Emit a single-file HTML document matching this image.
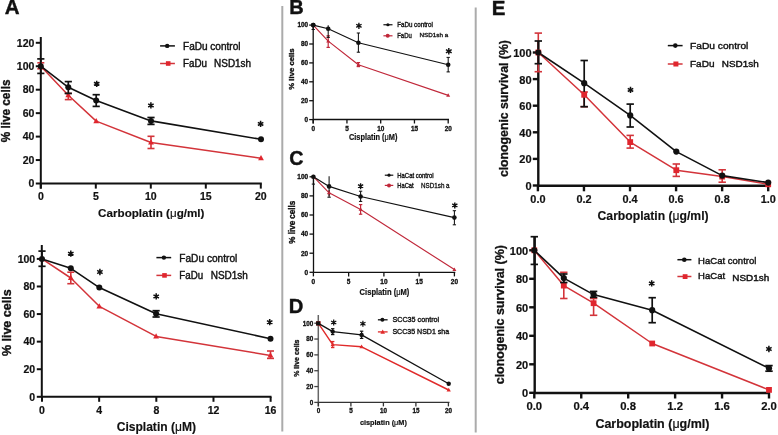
<!DOCTYPE html>
<html><head><meta charset="utf-8"><title>Figure</title>
<style>
html,body{margin:0;padding:0;background:#fff;}
body{width:778px;height:435px;overflow:hidden;}
svg{display:block;font-family:"Liberation Sans", sans-serif;}
svg{will-change:transform;}
</style></head><body>
<svg width="778" height="435" viewBox="0 0 778 435">
<rect width="778" height="435" fill="#fff"/>
<line x1="282.3" y1="6" x2="282.3" y2="431.4" stroke="#ababab" stroke-width="2.0" stroke-linecap="butt"/>
<line x1="475.7" y1="7.5" x2="475.7" y2="432.5" stroke="#ababab" stroke-width="2.0" stroke-linecap="butt"/>
<text x="4.8" y="14.0" font-size="20.5" font-weight="bold" fill="#111" stroke="#111" stroke-width="0.4">A</text>
<line x1="40.8" y1="37" x2="40.8" y2="188.6" stroke="#111" stroke-width="2.0" stroke-linecap="butt"/>
<line x1="40.8" y1="183.6" x2="261.8" y2="183.6" stroke="#111" stroke-width="2.0" stroke-linecap="butt"/>
<line x1="35.8" y1="183.5" x2="40.8" y2="183.5" stroke="#111" stroke-width="2.0" stroke-linecap="butt"/>
<line x1="35.8" y1="160.05" x2="40.8" y2="160.05" stroke="#111" stroke-width="2.0" stroke-linecap="butt"/>
<line x1="35.8" y1="136.6" x2="40.8" y2="136.6" stroke="#111" stroke-width="2.0" stroke-linecap="butt"/>
<line x1="35.8" y1="113.14999999999999" x2="40.8" y2="113.14999999999999" stroke="#111" stroke-width="2.0" stroke-linecap="butt"/>
<line x1="35.8" y1="89.69999999999999" x2="40.8" y2="89.69999999999999" stroke="#111" stroke-width="2.0" stroke-linecap="butt"/>
<line x1="35.8" y1="66.24999999999999" x2="40.8" y2="66.24999999999999" stroke="#111" stroke-width="2.0" stroke-linecap="butt"/>
<line x1="35.8" y1="42.79999999999998" x2="40.8" y2="42.79999999999998" stroke="#111" stroke-width="2.0" stroke-linecap="butt"/>
<line x1="40.8" y1="183.6" x2="40.8" y2="188.6" stroke="#111" stroke-width="2.0" stroke-linecap="butt"/>
<line x1="95.8" y1="183.6" x2="95.8" y2="188.6" stroke="#111" stroke-width="2.0" stroke-linecap="butt"/>
<line x1="150.8" y1="183.6" x2="150.8" y2="188.6" stroke="#111" stroke-width="2.0" stroke-linecap="butt"/>
<line x1="205.8" y1="183.6" x2="205.8" y2="188.6" stroke="#111" stroke-width="2.0" stroke-linecap="butt"/>
<line x1="260.8" y1="183.6" x2="260.8" y2="188.6" stroke="#111" stroke-width="2.0" stroke-linecap="butt"/>
<text x="34.4" y="187.2" font-size="10.5" font-weight="bold" text-anchor="end" fill="#111" stroke="#111" stroke-width="0.2">0</text>
<text x="34.4" y="163.75" font-size="10.5" font-weight="bold" text-anchor="end" fill="#111" stroke="#111" stroke-width="0.2">20</text>
<text x="34.4" y="140.29999999999998" font-size="10.5" font-weight="bold" text-anchor="end" fill="#111" stroke="#111" stroke-width="0.2">40</text>
<text x="34.4" y="116.85" font-size="10.5" font-weight="bold" text-anchor="end" fill="#111" stroke="#111" stroke-width="0.2">60</text>
<text x="34.4" y="93.39999999999999" font-size="10.5" font-weight="bold" text-anchor="end" fill="#111" stroke="#111" stroke-width="0.2">80</text>
<text x="34.4" y="69.94999999999999" font-size="10.5" font-weight="bold" text-anchor="end" fill="#111" stroke="#111" stroke-width="0.2">100</text>
<text x="34.4" y="46.499999999999986" font-size="10.5" font-weight="bold" text-anchor="end" fill="#111" stroke="#111" stroke-width="0.2">120</text>
<text x="40.8" y="199.6" font-size="10.5" font-weight="bold" text-anchor="middle" fill="#111" stroke="#111" stroke-width="0.2">0</text>
<text x="95.8" y="199.6" font-size="10.5" font-weight="bold" text-anchor="middle" fill="#111" stroke="#111" stroke-width="0.2">5</text>
<text x="150.8" y="199.6" font-size="10.5" font-weight="bold" text-anchor="middle" fill="#111" stroke="#111" stroke-width="0.2">10</text>
<text x="205.8" y="199.6" font-size="10.5" font-weight="bold" text-anchor="middle" fill="#111" stroke="#111" stroke-width="0.2">15</text>
<text x="260.8" y="199.6" font-size="10.5" font-weight="bold" text-anchor="middle" fill="#111" stroke="#111" stroke-width="0.2">20</text>
<text x="98.1" y="216.7" font-size="11.5" font-weight="bold" textLength="106.4" lengthAdjust="spacingAndGlyphs" fill="#111" stroke="#111" stroke-width="0.15">Carboplatin (<tspan font-weight="normal">μ</tspan>g/ml)</text>
<text x="10.3" y="142.3" font-size="12.0" font-weight="bold" textLength="62.8" lengthAdjust="spacingAndGlyphs" transform="rotate(-90 10.3 142.3)" fill="#111" stroke="#111" stroke-width="0.35">% live cells</text>
<polyline points="40.8,66.2 68.3,95.2 96.2,121.1 151,142.5 261,158.2" fill="none" stroke="#d3343a" stroke-width="1.5" stroke-linejoin="round"/>
<line x1="40.8" y1="62.8" x2="40.8" y2="68.8" stroke="#d3343a" stroke-width="1.6" stroke-linecap="butt"/>
<line x1="37.3" y1="62.8" x2="44.3" y2="62.8" stroke="#d3343a" stroke-width="1.6" stroke-linecap="butt"/>
<line x1="37.3" y1="68.8" x2="44.3" y2="68.8" stroke="#d3343a" stroke-width="1.6" stroke-linecap="butt"/>
<line x1="68.3" y1="93.4" x2="68.3" y2="99.6" stroke="#d3343a" stroke-width="1.6" stroke-linecap="butt"/>
<line x1="64.8" y1="93.4" x2="71.8" y2="93.4" stroke="#d3343a" stroke-width="1.6" stroke-linecap="butt"/>
<line x1="64.8" y1="99.6" x2="71.8" y2="99.6" stroke="#d3343a" stroke-width="1.6" stroke-linecap="butt"/>
<line x1="151" y1="136.3" x2="151" y2="148.5" stroke="#d3343a" stroke-width="1.6" stroke-linecap="butt"/>
<line x1="147.5" y1="136.3" x2="154.5" y2="136.3" stroke="#d3343a" stroke-width="1.6" stroke-linecap="butt"/>
<line x1="147.5" y1="148.5" x2="154.5" y2="148.5" stroke="#d3343a" stroke-width="1.6" stroke-linecap="butt"/>
<polygon points="40.8,63.068000000000005 43.699999999999996,68.288 37.9,68.288" fill="#e0262e"/>
<polygon points="68.3,92.068 71.2,97.288 65.39999999999999,97.288" fill="#e0262e"/>
<polygon points="96.2,117.96799999999999 99.10000000000001,123.18799999999999 93.3,123.18799999999999" fill="#e0262e"/>
<polygon points="151,139.368 153.9,144.588 148.1,144.588" fill="#e0262e"/>
<polygon points="261,155.06799999999998 263.9,160.28799999999998 258.1,160.28799999999998" fill="#e0262e"/>
<polyline points="40.8,66.2 68.3,87.3 96.2,100.5 151,120.9 261,139.3" fill="none" stroke="#111" stroke-width="1.6" stroke-linejoin="round"/>
<line x1="40.8" y1="58.9" x2="40.8" y2="73.4" stroke="#111" stroke-width="1.7" stroke-linecap="butt"/>
<line x1="37.199999999999996" y1="58.9" x2="44.4" y2="58.9" stroke="#111" stroke-width="1.7" stroke-linecap="butt"/>
<line x1="37.199999999999996" y1="73.4" x2="44.4" y2="73.4" stroke="#111" stroke-width="1.7" stroke-linecap="butt"/>
<line x1="68.3" y1="81.6" x2="68.3" y2="93.4" stroke="#111" stroke-width="1.7" stroke-linecap="butt"/>
<line x1="64.7" y1="81.6" x2="71.89999999999999" y2="81.6" stroke="#111" stroke-width="1.7" stroke-linecap="butt"/>
<line x1="64.7" y1="93.4" x2="71.89999999999999" y2="93.4" stroke="#111" stroke-width="1.7" stroke-linecap="butt"/>
<line x1="96.2" y1="94.7" x2="96.2" y2="106.4" stroke="#111" stroke-width="1.7" stroke-linecap="butt"/>
<line x1="92.60000000000001" y1="94.7" x2="99.8" y2="94.7" stroke="#111" stroke-width="1.7" stroke-linecap="butt"/>
<line x1="92.60000000000001" y1="106.4" x2="99.8" y2="106.4" stroke="#111" stroke-width="1.7" stroke-linecap="butt"/>
<line x1="151" y1="117.5" x2="151" y2="124.4" stroke="#111" stroke-width="1.7" stroke-linecap="butt"/>
<line x1="147.4" y1="117.5" x2="154.6" y2="117.5" stroke="#111" stroke-width="1.7" stroke-linecap="butt"/>
<line x1="147.4" y1="124.4" x2="154.6" y2="124.4" stroke="#111" stroke-width="1.7" stroke-linecap="butt"/>
<circle cx="40.8" cy="66.2" r="3.0" fill="#111"/>
<circle cx="68.3" cy="87.3" r="3.0" fill="#111"/>
<circle cx="96.2" cy="100.5" r="3.0" fill="#111"/>
<circle cx="151" cy="120.9" r="3.0" fill="#111"/>
<circle cx="261" cy="139.3" r="3.0" fill="#111"/>
<path d="M96.7 80.64999999999999V86.95M93.97 82.22L99.43 85.38M93.97 85.38L99.43 82.22" stroke="#111" stroke-width="1.53" fill="none"/>
<circle cx="96.7" cy="83.8" r="1.20" fill="#111"/>
<path d="M150.9 102.25V108.55000000000001M148.17 103.83L153.63 106.98M148.17 106.98L153.63 103.83" stroke="#111" stroke-width="1.53" fill="none"/>
<circle cx="150.9" cy="105.4" r="1.20" fill="#111"/>
<path d="M260.6 120.75V127.05000000000001M257.87 122.33L263.33 125.48M257.87 125.48L263.33 122.33" stroke="#111" stroke-width="1.53" fill="none"/>
<circle cx="260.6" cy="123.9" r="1.20" fill="#111"/>
<line x1="160.1" y1="45.9" x2="174.9" y2="45.9" stroke="#111" stroke-width="1.5" stroke-linecap="butt"/>
<circle cx="167.2" cy="45.9" r="2.2" fill="#111"/>
<text x="183" y="49.5" font-size="10" textLength="57.5" lengthAdjust="spacingAndGlyphs" fill="#111" stroke="#111" stroke-width="0.4">FaDu control</text>
<line x1="160.1" y1="63.5" x2="174.9" y2="63.5" stroke="#d3343a" stroke-width="1.5" stroke-linecap="butt"/>
<rect x="165.89999999999998" y="61.2" width="4.6" height="4.6" fill="#e0262e"/>
<text x="183" y="67.1" font-size="10" textLength="24" lengthAdjust="spacingAndGlyphs" fill="#111" stroke="#111" stroke-width="0.4">FaDu</text>
<text x="214.1" y="67.1" font-size="10" textLength="37" lengthAdjust="spacingAndGlyphs" fill="#111" stroke="#111" stroke-width="0.4">NSD1sh</text>
<line x1="41.8" y1="245" x2="41.8" y2="396.8" stroke="#111" stroke-width="2.0" stroke-linecap="butt"/>
<line x1="41.8" y1="396.8" x2="271.5" y2="396.8" stroke="#111" stroke-width="2.0" stroke-linecap="butt"/>
<line x1="36.8" y1="396.8" x2="41.8" y2="396.8" stroke="#111" stroke-width="2.0" stroke-linecap="butt"/>
<line x1="36.8" y1="369.22" x2="41.8" y2="369.22" stroke="#111" stroke-width="2.0" stroke-linecap="butt"/>
<line x1="36.8" y1="341.64" x2="41.8" y2="341.64" stroke="#111" stroke-width="2.0" stroke-linecap="butt"/>
<line x1="36.8" y1="314.06" x2="41.8" y2="314.06" stroke="#111" stroke-width="2.0" stroke-linecap="butt"/>
<line x1="36.8" y1="286.48" x2="41.8" y2="286.48" stroke="#111" stroke-width="2.0" stroke-linecap="butt"/>
<line x1="36.8" y1="258.9" x2="41.8" y2="258.9" stroke="#111" stroke-width="2.0" stroke-linecap="butt"/>
<line x1="42.0" y1="396.8" x2="42.0" y2="401.8" stroke="#111" stroke-width="2.0" stroke-linecap="butt"/>
<line x1="99.16" y1="396.8" x2="99.16" y2="401.8" stroke="#111" stroke-width="2.0" stroke-linecap="butt"/>
<line x1="156.32" y1="396.8" x2="156.32" y2="401.8" stroke="#111" stroke-width="2.0" stroke-linecap="butt"/>
<line x1="213.48" y1="396.8" x2="213.48" y2="401.8" stroke="#111" stroke-width="2.0" stroke-linecap="butt"/>
<line x1="270.64" y1="396.8" x2="270.64" y2="401.8" stroke="#111" stroke-width="2.0" stroke-linecap="butt"/>
<text x="35.2" y="400.5" font-size="10.5" font-weight="bold" text-anchor="end" fill="#111" stroke="#111" stroke-width="0.2">0</text>
<text x="35.2" y="372.92" font-size="10.5" font-weight="bold" text-anchor="end" fill="#111" stroke="#111" stroke-width="0.2">20</text>
<text x="35.2" y="345.34" font-size="10.5" font-weight="bold" text-anchor="end" fill="#111" stroke="#111" stroke-width="0.2">40</text>
<text x="35.2" y="317.76" font-size="10.5" font-weight="bold" text-anchor="end" fill="#111" stroke="#111" stroke-width="0.2">60</text>
<text x="35.2" y="290.18" font-size="10.5" font-weight="bold" text-anchor="end" fill="#111" stroke="#111" stroke-width="0.2">80</text>
<text x="35.2" y="262.59999999999997" font-size="10.5" font-weight="bold" text-anchor="end" fill="#111" stroke="#111" stroke-width="0.2">100</text>
<text x="42.0" y="413.6" font-size="10.5" font-weight="bold" text-anchor="middle" fill="#111" stroke="#111" stroke-width="0.2">0</text>
<text x="99.16" y="413.6" font-size="10.5" font-weight="bold" text-anchor="middle" fill="#111" stroke="#111" stroke-width="0.2">4</text>
<text x="156.32" y="413.6" font-size="10.5" font-weight="bold" text-anchor="middle" fill="#111" stroke="#111" stroke-width="0.2">8</text>
<text x="213.48" y="413.6" font-size="10.5" font-weight="bold" text-anchor="middle" fill="#111" stroke="#111" stroke-width="0.2">12</text>
<text x="270.64" y="413.6" font-size="10.5" font-weight="bold" text-anchor="middle" fill="#111" stroke="#111" stroke-width="0.2">16</text>
<text x="116.7" y="431.2" font-size="12" font-weight="bold" textLength="79.3" lengthAdjust="spacingAndGlyphs" fill="#111" stroke="#111" stroke-width="0.15">Cisplatin (<tspan font-weight="normal">μ</tspan>M)</text>
<text x="11.4" y="356.1" font-size="12.5" font-weight="bold" textLength="66.7" lengthAdjust="spacingAndGlyphs" transform="rotate(-90 11.4 356.1)" fill="#111" stroke="#111" stroke-width="0.35">% live cells</text>
<polyline points="42,258.9 70.8,278.0 99.3,306.3 156.1,336.4 270.5,355.4" fill="none" stroke="#d3343a" stroke-width="1.5" stroke-linejoin="round"/>
<line x1="70.8" y1="272.2" x2="70.8" y2="283.7" stroke="#d3343a" stroke-width="1.6" stroke-linecap="butt"/>
<line x1="67.3" y1="272.2" x2="74.3" y2="272.2" stroke="#d3343a" stroke-width="1.6" stroke-linecap="butt"/>
<line x1="67.3" y1="283.7" x2="74.3" y2="283.7" stroke="#d3343a" stroke-width="1.6" stroke-linecap="butt"/>
<line x1="270.5" y1="351" x2="270.5" y2="358.4" stroke="#d3343a" stroke-width="1.6" stroke-linecap="butt"/>
<line x1="267.0" y1="351" x2="274.0" y2="351" stroke="#d3343a" stroke-width="1.6" stroke-linecap="butt"/>
<line x1="267.0" y1="358.4" x2="274.0" y2="358.4" stroke="#d3343a" stroke-width="1.6" stroke-linecap="butt"/>
<polygon points="42,255.76799999999997 44.9,260.988 39.1,260.988" fill="#e0262e"/>
<polygon points="70.8,274.868 73.7,280.088 67.89999999999999,280.088" fill="#e0262e"/>
<polygon points="99.3,303.168 102.2,308.38800000000003 96.39999999999999,308.38800000000003" fill="#e0262e"/>
<polygon points="156.1,333.268 159.0,338.488 153.2,338.488" fill="#e0262e"/>
<polygon points="270.5,352.268 273.4,357.488 267.6,357.488" fill="#e0262e"/>
<polyline points="42,258.9 70.8,268.3 99.3,287.6 156.1,313.8 270.5,338.7" fill="none" stroke="#111" stroke-width="1.6" stroke-linejoin="round"/>
<line x1="42" y1="251.1" x2="42" y2="266.3" stroke="#111" stroke-width="1.7" stroke-linecap="butt"/>
<line x1="38.4" y1="251.1" x2="45.6" y2="251.1" stroke="#111" stroke-width="1.7" stroke-linecap="butt"/>
<line x1="38.4" y1="266.3" x2="45.6" y2="266.3" stroke="#111" stroke-width="1.7" stroke-linecap="butt"/>
<line x1="156.1" y1="310.7" x2="156.1" y2="317" stroke="#111" stroke-width="1.7" stroke-linecap="butt"/>
<line x1="152.5" y1="310.7" x2="159.7" y2="310.7" stroke="#111" stroke-width="1.7" stroke-linecap="butt"/>
<line x1="152.5" y1="317" x2="159.7" y2="317" stroke="#111" stroke-width="1.7" stroke-linecap="butt"/>
<circle cx="42" cy="258.9" r="3.0" fill="#111"/>
<circle cx="70.8" cy="268.3" r="3.0" fill="#111"/>
<circle cx="99.3" cy="287.6" r="3.0" fill="#111"/>
<circle cx="156.1" cy="313.8" r="3.0" fill="#111"/>
<circle cx="270.5" cy="338.7" r="3.0" fill="#111"/>
<path d="M70.8 250.54999999999998V256.84999999999997M68.07 252.12L73.53 255.27M68.07 255.27L73.53 252.12" stroke="#111" stroke-width="1.53" fill="none"/>
<circle cx="70.8" cy="253.7" r="1.20" fill="#111"/>
<path d="M99.9 268.85V275.15M97.17 270.43L102.63 273.57M97.17 273.57L102.63 270.43" stroke="#111" stroke-width="1.53" fill="none"/>
<circle cx="99.9" cy="272.0" r="1.20" fill="#111"/>
<path d="M156.2 293.25V299.54999999999995M153.47 294.82L158.93 297.97M153.47 297.97L158.93 294.82" stroke="#111" stroke-width="1.53" fill="none"/>
<circle cx="156.2" cy="296.4" r="1.20" fill="#111"/>
<path d="M269.7 319.05V325.34999999999997M266.97 320.62L272.43 323.77M266.97 323.77L272.43 320.62" stroke="#111" stroke-width="1.53" fill="none"/>
<circle cx="269.7" cy="322.2" r="1.20" fill="#111"/>
<line x1="156.4" y1="257.6" x2="171.2" y2="257.6" stroke="#111" stroke-width="1.5" stroke-linecap="butt"/>
<circle cx="163.9" cy="257.6" r="2.2" fill="#111"/>
<text x="179.3" y="261.5" font-size="10" textLength="58" lengthAdjust="spacingAndGlyphs" fill="#111" stroke="#111" stroke-width="0.4">FaDu control</text>
<line x1="156.4" y1="275.4" x2="171.2" y2="275.4" stroke="#d3343a" stroke-width="1.5" stroke-linecap="butt"/>
<rect x="162.2" y="273.09999999999997" width="4.6" height="4.6" fill="#e0262e"/>
<text x="179.3" y="279.2" font-size="10" textLength="23.8" lengthAdjust="spacingAndGlyphs" fill="#111" stroke="#111" stroke-width="0.4">FaDu</text>
<text x="210.7" y="279.2" font-size="10" textLength="37.2" lengthAdjust="spacingAndGlyphs" fill="#111" stroke="#111" stroke-width="0.4">NSD1sh</text>
<text x="289.2" y="13.8" font-size="20" font-weight="bold" fill="#111" stroke="#111" stroke-width="0.4">B</text>
<line x1="313.2" y1="25" x2="313.2" y2="123.5" stroke="#111" stroke-width="1.3" stroke-linecap="butt"/>
<line x1="313.2" y1="119.5" x2="449" y2="119.5" stroke="#111" stroke-width="1.3" stroke-linecap="butt"/>
<line x1="309.2" y1="119.6" x2="313.2" y2="119.6" stroke="#111" stroke-width="1.3" stroke-linecap="butt"/>
<line x1="309.2" y1="100.69999999999999" x2="313.2" y2="100.69999999999999" stroke="#111" stroke-width="1.3" stroke-linecap="butt"/>
<line x1="309.2" y1="81.8" x2="313.2" y2="81.8" stroke="#111" stroke-width="1.3" stroke-linecap="butt"/>
<line x1="309.2" y1="62.9" x2="313.2" y2="62.9" stroke="#111" stroke-width="1.3" stroke-linecap="butt"/>
<line x1="309.2" y1="44.0" x2="313.2" y2="44.0" stroke="#111" stroke-width="1.3" stroke-linecap="butt"/>
<line x1="309.2" y1="25.099999999999994" x2="313.2" y2="25.099999999999994" stroke="#111" stroke-width="1.3" stroke-linecap="butt"/>
<line x1="313.2" y1="119.5" x2="313.2" y2="123.5" stroke="#111" stroke-width="1.3" stroke-linecap="butt"/>
<line x1="346.95" y1="119.5" x2="346.95" y2="123.5" stroke="#111" stroke-width="1.3" stroke-linecap="butt"/>
<line x1="380.7" y1="119.5" x2="380.7" y2="123.5" stroke="#111" stroke-width="1.3" stroke-linecap="butt"/>
<line x1="414.45" y1="119.5" x2="414.45" y2="123.5" stroke="#111" stroke-width="1.3" stroke-linecap="butt"/>
<line x1="448.2" y1="119.5" x2="448.2" y2="123.5" stroke="#111" stroke-width="1.3" stroke-linecap="butt"/>
<text x="308.1" y="121.89999999999999" font-size="6.4" font-weight="bold" text-anchor="end" fill="#111" stroke="#111" stroke-width="0.3">0</text>
<text x="308.1" y="102.99999999999999" font-size="6.4" font-weight="bold" text-anchor="end" fill="#111" stroke="#111" stroke-width="0.3">20</text>
<text x="308.1" y="84.1" font-size="6.4" font-weight="bold" text-anchor="end" fill="#111" stroke="#111" stroke-width="0.3">40</text>
<text x="308.1" y="65.2" font-size="6.4" font-weight="bold" text-anchor="end" fill="#111" stroke="#111" stroke-width="0.3">60</text>
<text x="308.1" y="46.3" font-size="6.4" font-weight="bold" text-anchor="end" fill="#111" stroke="#111" stroke-width="0.3">80</text>
<text x="308.1" y="27.399999999999995" font-size="6.4" font-weight="bold" text-anchor="end" fill="#111" stroke="#111" stroke-width="0.3">100</text>
<text x="313.2" y="131.2" font-size="6.4" font-weight="bold" text-anchor="middle" fill="#111" stroke="#111" stroke-width="0.3">0</text>
<text x="346.95" y="131.2" font-size="6.4" font-weight="bold" text-anchor="middle" fill="#111" stroke="#111" stroke-width="0.3">5</text>
<text x="380.7" y="131.2" font-size="6.4" font-weight="bold" text-anchor="middle" fill="#111" stroke="#111" stroke-width="0.3">10</text>
<text x="414.45" y="131.2" font-size="6.4" font-weight="bold" text-anchor="middle" fill="#111" stroke="#111" stroke-width="0.3">15</text>
<text x="448.2" y="131.2" font-size="6.4" font-weight="bold" text-anchor="middle" fill="#111" stroke="#111" stroke-width="0.3">20</text>
<text x="349.0" y="140.4" font-size="8.4" font-weight="bold" textLength="48.4" lengthAdjust="spacingAndGlyphs" fill="#111" stroke="#111" stroke-width="0.2">Cisplatin (<tspan font-weight="normal">μ</tspan>M)</text>
<text x="294.0" y="89.7" font-size="7.8" font-weight="bold" textLength="41.4" lengthAdjust="spacingAndGlyphs" transform="rotate(-90 294.0 89.7)" fill="#111" stroke="#111" stroke-width="0.35">% live cells</text>
<polyline points="313.2,25.1 328.2,41.1 358.4,64.8 448.2,95.4" fill="none" stroke="#c0283a" stroke-width="1.15" stroke-linejoin="round"/>
<line x1="328.2" y1="35.8" x2="328.2" y2="47.4" stroke="#c0283a" stroke-width="1.2" stroke-linecap="butt"/>
<line x1="326.5" y1="35.8" x2="329.9" y2="35.8" stroke="#c0283a" stroke-width="1.2" stroke-linecap="butt"/>
<line x1="326.5" y1="47.4" x2="329.9" y2="47.4" stroke="#c0283a" stroke-width="1.2" stroke-linecap="butt"/>
<line x1="358.4" y1="62.6" x2="358.4" y2="66.6" stroke="#c0283a" stroke-width="1.2" stroke-linecap="butt"/>
<line x1="356.7" y1="62.6" x2="360.09999999999997" y2="62.6" stroke="#c0283a" stroke-width="1.2" stroke-linecap="butt"/>
<line x1="356.7" y1="66.6" x2="360.09999999999997" y2="66.6" stroke="#c0283a" stroke-width="1.2" stroke-linecap="butt"/>
<polygon points="313.2,22.94 315.2,26.540000000000003 311.2,26.540000000000003" fill="#c0283a"/>
<polygon points="328.2,38.94 330.2,42.54 326.2,42.54" fill="#c0283a"/>
<polygon points="358.4,62.64 360.4,66.24 356.4,66.24" fill="#c0283a"/>
<polygon points="448.2,93.24000000000001 450.2,96.84 446.2,96.84" fill="#c0283a"/>
<polyline points="313.2,25.1 328.2,28.7 358.4,42.7 448.2,64.7" fill="none" stroke="#111" stroke-width="1.15" stroke-linejoin="round"/>
<line x1="313.2" y1="25.1" x2="313.2" y2="29.5" stroke="#111" stroke-width="1.05" stroke-linecap="butt"/>
<line x1="311.55" y1="29.5" x2="314.84999999999997" y2="29.5" stroke="#111" stroke-width="1.05" stroke-linecap="butt"/>
<line x1="328.2" y1="25.3" x2="328.2" y2="37.4" stroke="#111" stroke-width="1.05" stroke-linecap="butt"/>
<line x1="326.55" y1="37.4" x2="329.84999999999997" y2="37.4" stroke="#111" stroke-width="1.05" stroke-linecap="butt"/>
<line x1="358.4" y1="33" x2="358.4" y2="52.2" stroke="#111" stroke-width="1.05" stroke-linecap="butt"/>
<line x1="356.75" y1="33" x2="360.04999999999995" y2="33" stroke="#111" stroke-width="1.05" stroke-linecap="butt"/>
<line x1="356.75" y1="52.2" x2="360.04999999999995" y2="52.2" stroke="#111" stroke-width="1.05" stroke-linecap="butt"/>
<line x1="448.2" y1="57.4" x2="448.2" y2="71.9" stroke="#111" stroke-width="1.05" stroke-linecap="butt"/>
<line x1="446.55" y1="57.4" x2="449.84999999999997" y2="57.4" stroke="#111" stroke-width="1.05" stroke-linecap="butt"/>
<line x1="446.55" y1="71.9" x2="449.84999999999997" y2="71.9" stroke="#111" stroke-width="1.05" stroke-linecap="butt"/>
<circle cx="313.2" cy="25.1" r="2.3" fill="#111"/>
<circle cx="328.2" cy="28.7" r="2.3" fill="#111"/>
<circle cx="358.4" cy="42.7" r="2.3" fill="#111"/>
<circle cx="448.2" cy="64.7" r="2.3" fill="#111"/>
<circle cx="313.3" cy="25.1" r="2.3" fill="#111"/>
<path d="M358.9 22.7V28.900000000000002M356.22 24.25L361.58 27.35M356.22 27.35L361.58 24.25" stroke="#111" stroke-width="1.36" fill="none"/>
<circle cx="358.9" cy="25.8" r="1.18" fill="#111"/>
<path d="M448.8 47.900000000000006V54.5M445.94 49.55L451.66 52.85M445.94 52.85L451.66 49.55" stroke="#111" stroke-width="1.44" fill="none"/>
<circle cx="448.8" cy="51.2" r="1.25" fill="#111"/>
<line x1="383.4" y1="24.75" x2="392.5" y2="24.75" stroke="#111" stroke-width="1.2" stroke-linecap="butt"/>
<circle cx="387.9" cy="24.75" r="1.6" fill="#111"/>
<text x="397.2" y="27.2" font-size="6.8" textLength="35.6" lengthAdjust="spacingAndGlyphs" fill="#111" stroke="#111" stroke-width="0.35">FaDu control</text>
<line x1="383.4" y1="35.8" x2="392.5" y2="35.8" stroke="#c0283a" stroke-width="1.2" stroke-linecap="butt"/>
<circle cx="387.7" cy="35.8" r="2.0" fill="#c0283a"/>
<text x="397.2" y="38.4" font-size="6.9" textLength="14.6" lengthAdjust="spacingAndGlyphs" fill="#111" stroke="#111" stroke-width="0.35">FaDu</text>
<text x="419.5" y="37.1" font-size="5.8" textLength="28.8" lengthAdjust="spacingAndGlyphs" fill="#111" stroke="#111" stroke-width="0.3">NSD1sh a</text>
<text x="289.2" y="164.9" font-size="19.7" font-weight="bold" fill="#111" stroke="#111" stroke-width="0.4">C</text>
<line x1="313.5" y1="175" x2="313.5" y2="272.4" stroke="#111" stroke-width="1.3" stroke-linecap="butt"/>
<line x1="313.5" y1="272.4" x2="455.3" y2="272.4" stroke="#111" stroke-width="1.3" stroke-linecap="butt"/>
<line x1="309.5" y1="272.3" x2="313.5" y2="272.3" stroke="#111" stroke-width="1.3" stroke-linecap="butt"/>
<line x1="309.5" y1="253.20000000000002" x2="313.5" y2="253.20000000000002" stroke="#111" stroke-width="1.3" stroke-linecap="butt"/>
<line x1="309.5" y1="234.10000000000002" x2="313.5" y2="234.10000000000002" stroke="#111" stroke-width="1.3" stroke-linecap="butt"/>
<line x1="309.5" y1="215.0" x2="313.5" y2="215.0" stroke="#111" stroke-width="1.3" stroke-linecap="butt"/>
<line x1="309.5" y1="195.90000000000003" x2="313.5" y2="195.90000000000003" stroke="#111" stroke-width="1.3" stroke-linecap="butt"/>
<line x1="309.5" y1="176.8" x2="313.5" y2="176.8" stroke="#111" stroke-width="1.3" stroke-linecap="butt"/>
<line x1="313.4" y1="272.4" x2="313.4" y2="276.4" stroke="#111" stroke-width="1.3" stroke-linecap="butt"/>
<line x1="348.65" y1="272.4" x2="348.65" y2="276.4" stroke="#111" stroke-width="1.3" stroke-linecap="butt"/>
<line x1="383.9" y1="272.4" x2="383.9" y2="276.4" stroke="#111" stroke-width="1.3" stroke-linecap="butt"/>
<line x1="419.15" y1="272.4" x2="419.15" y2="276.4" stroke="#111" stroke-width="1.3" stroke-linecap="butt"/>
<line x1="454.4" y1="272.4" x2="454.4" y2="276.4" stroke="#111" stroke-width="1.3" stroke-linecap="butt"/>
<text x="308.2" y="274.6" font-size="6.5" font-weight="bold" text-anchor="end" fill="#111" stroke="#111" stroke-width="0.3">0</text>
<text x="308.2" y="255.50000000000003" font-size="6.5" font-weight="bold" text-anchor="end" fill="#111" stroke="#111" stroke-width="0.3">20</text>
<text x="308.2" y="236.40000000000003" font-size="6.5" font-weight="bold" text-anchor="end" fill="#111" stroke="#111" stroke-width="0.3">40</text>
<text x="308.2" y="217.3" font-size="6.5" font-weight="bold" text-anchor="end" fill="#111" stroke="#111" stroke-width="0.3">60</text>
<text x="308.2" y="198.20000000000005" font-size="6.5" font-weight="bold" text-anchor="end" fill="#111" stroke="#111" stroke-width="0.3">80</text>
<text x="308.2" y="179.10000000000002" font-size="6.5" font-weight="bold" text-anchor="end" fill="#111" stroke="#111" stroke-width="0.3">100</text>
<text x="313.4" y="284.2" font-size="6.5" font-weight="bold" text-anchor="middle" fill="#111" stroke="#111" stroke-width="0.3">0</text>
<text x="348.65" y="284.2" font-size="6.5" font-weight="bold" text-anchor="middle" fill="#111" stroke="#111" stroke-width="0.3">5</text>
<text x="383.9" y="284.2" font-size="6.5" font-weight="bold" text-anchor="middle" fill="#111" stroke="#111" stroke-width="0.3">10</text>
<text x="419.15" y="284.2" font-size="6.5" font-weight="bold" text-anchor="middle" fill="#111" stroke="#111" stroke-width="0.3">15</text>
<text x="454.4" y="284.2" font-size="6.5" font-weight="bold" text-anchor="middle" fill="#111" stroke="#111" stroke-width="0.3">20</text>
<text x="359.6" y="294.6" font-size="8.4" font-weight="bold" textLength="49.8" lengthAdjust="spacingAndGlyphs" fill="#111" stroke="#111" stroke-width="0.2">Cisplatin (<tspan font-weight="normal">μ</tspan>M)</text>
<text x="295.3" y="243.7" font-size="8.4" font-weight="bold" textLength="43" lengthAdjust="spacingAndGlyphs" transform="rotate(-90 295.3 243.7)" fill="#111" stroke="#111" stroke-width="0.35">% live cells</text>
<polyline points="313.4,176.7 329.1,192.8 360.6,209.4 454.4,269.6" fill="none" stroke="#c0283a" stroke-width="1.15" stroke-linejoin="round"/>
<line x1="360.6" y1="204.6" x2="360.6" y2="214.2" stroke="#c0283a" stroke-width="1.2" stroke-linecap="butt"/>
<line x1="358.90000000000003" y1="204.6" x2="362.3" y2="204.6" stroke="#c0283a" stroke-width="1.2" stroke-linecap="butt"/>
<line x1="358.90000000000003" y1="214.2" x2="362.3" y2="214.2" stroke="#c0283a" stroke-width="1.2" stroke-linecap="butt"/>
<line x1="329.1" y1="190" x2="329.1" y2="196" stroke="#c0283a" stroke-width="1.1" stroke-linecap="butt"/>
<polygon points="313.4,174.54 315.4,178.14 311.4,178.14" fill="#c0283a"/>
<polygon points="329.1,190.64000000000001 331.1,194.24 327.1,194.24" fill="#c0283a"/>
<polygon points="360.6,207.24 362.6,210.84 358.6,210.84" fill="#c0283a"/>
<polygon points="454.4,267.44 456.4,271.04 452.4,271.04" fill="#c0283a"/>
<polyline points="313.4,176.7 329.1,186.4 360.6,196.5 454.4,217.6" fill="none" stroke="#111" stroke-width="1.15" stroke-linejoin="round"/>
<line x1="313.4" y1="176.7" x2="313.4" y2="184.1" stroke="#111" stroke-width="1.05" stroke-linecap="butt"/>
<line x1="311.75" y1="176.7" x2="315.04999999999995" y2="176.7" stroke="#111" stroke-width="1.05" stroke-linecap="butt"/>
<line x1="311.75" y1="184.1" x2="315.04999999999995" y2="184.1" stroke="#111" stroke-width="1.05" stroke-linecap="butt"/>
<line x1="329.1" y1="176.3" x2="329.1" y2="197.2" stroke="#111" stroke-width="1.05" stroke-linecap="butt"/>
<line x1="327.40000000000003" y1="197.2" x2="330.8" y2="197.2" stroke="#111" stroke-width="1.05" stroke-linecap="butt"/>
<polygon points="329.1,190.85600000000002 330.90000000000003,194.096 327.3,194.096" fill="#c0283a"/>
<line x1="360.6" y1="191.2" x2="360.6" y2="201.4" stroke="#111" stroke-width="1.05" stroke-linecap="butt"/>
<line x1="358.95000000000005" y1="191.2" x2="362.25" y2="191.2" stroke="#111" stroke-width="1.05" stroke-linecap="butt"/>
<line x1="358.95000000000005" y1="201.4" x2="362.25" y2="201.4" stroke="#111" stroke-width="1.05" stroke-linecap="butt"/>
<line x1="454.4" y1="210.7" x2="454.4" y2="224.8" stroke="#111" stroke-width="1.05" stroke-linecap="butt"/>
<line x1="452.75" y1="210.7" x2="456.04999999999995" y2="210.7" stroke="#111" stroke-width="1.05" stroke-linecap="butt"/>
<line x1="452.75" y1="224.8" x2="456.04999999999995" y2="224.8" stroke="#111" stroke-width="1.05" stroke-linecap="butt"/>
<circle cx="313.4" cy="176.7" r="2.3" fill="#111"/>
<circle cx="329.1" cy="186.4" r="2.3" fill="#111"/>
<circle cx="360.6" cy="196.5" r="2.3" fill="#111"/>
<circle cx="454.4" cy="217.6" r="2.3" fill="#111"/>
<path d="M360.6 183.2V189.2M358.00 184.70L363.20 187.70M358.00 187.70L363.20 184.70" stroke="#111" stroke-width="1.36" fill="none"/>
<circle cx="360.6" cy="186.2" r="1.14" fill="#111"/>
<path d="M454.8 202.4V208.4M452.20 203.90L457.40 206.90M452.20 206.90L457.40 203.90" stroke="#111" stroke-width="1.44" fill="none"/>
<circle cx="454.8" cy="205.4" r="1.14" fill="#111"/>
<line x1="384.8" y1="175.2" x2="393.3" y2="175.2" stroke="#111" stroke-width="1.2" stroke-linecap="butt"/>
<circle cx="389" cy="175.2" r="1.6" fill="#111"/>
<text x="397.3" y="177.6" font-size="6.8" textLength="36.2" lengthAdjust="spacingAndGlyphs" fill="#111" stroke="#111" stroke-width="0.35">HaCat control</text>
<line x1="384.8" y1="185.4" x2="393.3" y2="185.4" stroke="#c0283a" stroke-width="1.2" stroke-linecap="butt"/>
<circle cx="389" cy="185.4" r="2.0" fill="#c0283a"/>
<text x="397.3" y="188.0" font-size="6.9" textLength="16.4" lengthAdjust="spacingAndGlyphs" fill="#111" stroke="#111" stroke-width="0.35">HaCat</text>
<text x="421.1" y="188.0" font-size="6.8" textLength="28.5" lengthAdjust="spacingAndGlyphs" fill="#111" stroke="#111" stroke-width="0.3">NSD1sh a</text>
<text x="288.8" y="312.7" font-size="20.2" font-weight="bold" fill="#111" stroke="#111" stroke-width="0.4">D</text>
<line x1="318.3" y1="315" x2="318.3" y2="406.4" stroke="#666" stroke-width="1.5" stroke-linecap="butt"/>
<line x1="318.3" y1="402.4" x2="449.5" y2="402.4" stroke="#333" stroke-width="1.3" stroke-linecap="butt"/>
<line x1="314.3" y1="402.4" x2="318.3" y2="402.4" stroke="#444" stroke-width="1.3" stroke-linecap="butt"/>
<line x1="314.3" y1="386.56" x2="318.3" y2="386.56" stroke="#444" stroke-width="1.3" stroke-linecap="butt"/>
<line x1="314.3" y1="370.71999999999997" x2="318.3" y2="370.71999999999997" stroke="#444" stroke-width="1.3" stroke-linecap="butt"/>
<line x1="314.3" y1="354.88" x2="318.3" y2="354.88" stroke="#444" stroke-width="1.3" stroke-linecap="butt"/>
<line x1="314.3" y1="339.03999999999996" x2="318.3" y2="339.03999999999996" stroke="#444" stroke-width="1.3" stroke-linecap="butt"/>
<line x1="314.3" y1="323.2" x2="318.3" y2="323.2" stroke="#444" stroke-width="1.3" stroke-linecap="butt"/>
<line x1="318.4" y1="402.4" x2="318.4" y2="406.4" stroke="#333" stroke-width="1.3" stroke-linecap="butt"/>
<line x1="350.9" y1="402.4" x2="350.9" y2="406.4" stroke="#333" stroke-width="1.3" stroke-linecap="butt"/>
<line x1="383.4" y1="402.4" x2="383.4" y2="406.4" stroke="#333" stroke-width="1.3" stroke-linecap="butt"/>
<line x1="415.9" y1="402.4" x2="415.9" y2="406.4" stroke="#333" stroke-width="1.3" stroke-linecap="butt"/>
<line x1="448.4" y1="402.4" x2="448.4" y2="406.4" stroke="#333" stroke-width="1.3" stroke-linecap="butt"/>
<text x="313.3" y="404.7" font-size="6.3" font-weight="bold" text-anchor="end" fill="#111" stroke="#111" stroke-width="0.3">0</text>
<text x="313.3" y="388.86" font-size="6.3" font-weight="bold" text-anchor="end" fill="#111" stroke="#111" stroke-width="0.3">20</text>
<text x="313.3" y="373.02" font-size="6.3" font-weight="bold" text-anchor="end" fill="#111" stroke="#111" stroke-width="0.3">40</text>
<text x="313.3" y="357.18" font-size="6.3" font-weight="bold" text-anchor="end" fill="#111" stroke="#111" stroke-width="0.3">60</text>
<text x="313.3" y="341.34" font-size="6.3" font-weight="bold" text-anchor="end" fill="#111" stroke="#111" stroke-width="0.3">80</text>
<text x="313.3" y="325.5" font-size="6.3" font-weight="bold" text-anchor="end" fill="#111" stroke="#111" stroke-width="0.3">100</text>
<text x="318.4" y="413.3" font-size="6.3" font-weight="bold" text-anchor="middle" fill="#111" stroke="#111" stroke-width="0.3">0</text>
<text x="350.9" y="413.3" font-size="6.3" font-weight="bold" text-anchor="middle" fill="#111" stroke="#111" stroke-width="0.3">5</text>
<text x="383.4" y="413.3" font-size="6.3" font-weight="bold" text-anchor="middle" fill="#111" stroke="#111" stroke-width="0.3">10</text>
<text x="415.9" y="413.3" font-size="6.3" font-weight="bold" text-anchor="middle" fill="#111" stroke="#111" stroke-width="0.3">15</text>
<text x="448.4" y="413.3" font-size="6.3" font-weight="bold" text-anchor="middle" fill="#111" stroke="#111" stroke-width="0.3">20</text>
<text x="359.9" y="424.6" font-size="7.6" font-weight="bold" textLength="47" lengthAdjust="spacingAndGlyphs" fill="#111" stroke="#111" stroke-width="0.2">cisplatin (<tspan font-weight="normal">μ</tspan>M)</text>
<text x="298.7" y="376.8" font-size="7.8" font-weight="bold" textLength="37.3" lengthAdjust="spacingAndGlyphs" transform="rotate(-90 298.7 376.8)" fill="#111" stroke="#111" stroke-width="0.35">% live cells</text>
<polyline points="318.4,323.4 332.7,344.6 361.6,346.8 448.7,390.0" fill="none" stroke="#e02a2a" stroke-width="1.4" stroke-linejoin="round"/>
<line x1="332.7" y1="341.5" x2="332.7" y2="347.6" stroke="#e02a2a" stroke-width="1.2" stroke-linecap="butt"/>
<line x1="331.0" y1="341.5" x2="334.4" y2="341.5" stroke="#e02a2a" stroke-width="1.2" stroke-linecap="butt"/>
<line x1="331.0" y1="347.6" x2="334.4" y2="347.6" stroke="#e02a2a" stroke-width="1.2" stroke-linecap="butt"/>
<polygon points="318.4,321.078 320.54999999999995,324.948 316.25,324.948" fill="#e02a2a"/>
<polygon points="332.7,342.278 334.84999999999997,346.148 330.55,346.148" fill="#e02a2a"/>
<polygon points="361.6,344.478 363.75,348.348 359.45000000000005,348.348" fill="#e02a2a"/>
<polygon points="448.7,387.678 450.84999999999997,391.548 446.55,391.548" fill="#e02a2a"/>
<rect x="316.2" y="321.2" width="4.4" height="4.4" fill="#e02a2a"/>
<polyline points="318.4,323.4 332.7,331.6 361.6,334.9 448.7,383.7" fill="none" stroke="#111" stroke-width="1.3" stroke-linejoin="round"/>
<line x1="332.7" y1="328.7" x2="332.7" y2="334.6" stroke="#111" stroke-width="1.2" stroke-linecap="butt"/>
<line x1="331.0" y1="328.7" x2="334.4" y2="328.7" stroke="#111" stroke-width="1.2" stroke-linecap="butt"/>
<line x1="331.0" y1="334.6" x2="334.4" y2="334.6" stroke="#111" stroke-width="1.2" stroke-linecap="butt"/>
<line x1="361.6" y1="331.2" x2="361.6" y2="338.4" stroke="#111" stroke-width="1.2" stroke-linecap="butt"/>
<line x1="359.90000000000003" y1="331.2" x2="363.3" y2="331.2" stroke="#111" stroke-width="1.2" stroke-linecap="butt"/>
<line x1="359.90000000000003" y1="338.4" x2="363.3" y2="338.4" stroke="#111" stroke-width="1.2" stroke-linecap="butt"/>
<circle cx="332.7" cy="331.6" r="2.2" fill="#111"/>
<circle cx="361.6" cy="334.9" r="2.2" fill="#111"/>
<circle cx="448.7" cy="383.7" r="2.2" fill="#111"/>
<rect x="316.09999999999997" y="321.29999999999995" width="4.2" height="4.2" fill="#111"/>
<path d="M333.7 319.5V325.5M331.10 321.00L336.30 324.00M331.10 324.00L336.30 321.00" stroke="#111" stroke-width="1.23" fill="none"/>
<circle cx="333.7" cy="322.5" r="1.14" fill="#111"/>
<path d="M362.9 320.7V326.7M360.30 322.20L365.50 325.20M360.30 325.20L365.50 322.20" stroke="#111" stroke-width="1.23" fill="none"/>
<circle cx="362.9" cy="323.7" r="1.14" fill="#111"/>
<line x1="377.9" y1="319.8" x2="387.6" y2="319.8" stroke="#111" stroke-width="1.3" stroke-linecap="butt"/>
<circle cx="382.4" cy="319.8" r="2.0" fill="#111"/>
<text x="392.4" y="322.0" font-size="6.9" textLength="46.8" lengthAdjust="spacingAndGlyphs" fill="#111" stroke="#111" stroke-width="0.35">SCC35 control</text>
<line x1="377.9" y1="331.9" x2="387.6" y2="331.9" stroke="#e02a2a" stroke-width="1.3" stroke-linecap="butt"/>
<polygon points="382.7,329.516 385.0,333.656 380.4,333.656" fill="#e02a2a"/>
<text x="392.4" y="333.8" font-size="6.9" textLength="56.8" lengthAdjust="spacingAndGlyphs" fill="#111" stroke="#111" stroke-width="0.35">SCC35 NSD1 sha</text>
<text x="491.7" y="14.7" font-size="20.5" font-weight="bold" fill="#111" stroke="#111" stroke-width="0.4">E</text>
<line x1="538.3" y1="41" x2="538.3" y2="185.8" stroke="#111" stroke-width="2.4" stroke-linecap="butt"/>
<line x1="538.3" y1="185.8" x2="769.5" y2="185.8" stroke="#111" stroke-width="2.4" stroke-linecap="butt"/>
<line x1="532.8" y1="185.5" x2="538.3" y2="185.5" stroke="#111" stroke-width="2.4" stroke-linecap="butt"/>
<line x1="532.8" y1="158.9" x2="538.3" y2="158.9" stroke="#111" stroke-width="2.4" stroke-linecap="butt"/>
<line x1="532.8" y1="132.3" x2="538.3" y2="132.3" stroke="#111" stroke-width="2.4" stroke-linecap="butt"/>
<line x1="532.8" y1="105.69999999999999" x2="538.3" y2="105.69999999999999" stroke="#111" stroke-width="2.4" stroke-linecap="butt"/>
<line x1="532.8" y1="79.1" x2="538.3" y2="79.1" stroke="#111" stroke-width="2.4" stroke-linecap="butt"/>
<line x1="532.8" y1="52.5" x2="538.3" y2="52.5" stroke="#111" stroke-width="2.4" stroke-linecap="butt"/>
<line x1="537.9" y1="185.8" x2="537.9" y2="191.3" stroke="#111" stroke-width="2.4" stroke-linecap="butt"/>
<line x1="583.96" y1="185.8" x2="583.96" y2="191.3" stroke="#111" stroke-width="2.4" stroke-linecap="butt"/>
<line x1="630.02" y1="185.8" x2="630.02" y2="191.3" stroke="#111" stroke-width="2.4" stroke-linecap="butt"/>
<line x1="676.0799999999999" y1="185.8" x2="676.0799999999999" y2="191.3" stroke="#111" stroke-width="2.4" stroke-linecap="butt"/>
<line x1="722.14" y1="185.8" x2="722.14" y2="191.3" stroke="#111" stroke-width="2.4" stroke-linecap="butt"/>
<line x1="768.2" y1="185.8" x2="768.2" y2="191.3" stroke="#111" stroke-width="2.4" stroke-linecap="butt"/>
<text x="531.6" y="189.9" font-size="11" font-weight="bold" text-anchor="end" fill="#111" stroke="#111" stroke-width="0.2">0</text>
<text x="531.6" y="163.3" font-size="11" font-weight="bold" text-anchor="end" fill="#111" stroke="#111" stroke-width="0.2">20</text>
<text x="531.6" y="136.70000000000002" font-size="11" font-weight="bold" text-anchor="end" fill="#111" stroke="#111" stroke-width="0.2">40</text>
<text x="531.6" y="110.1" font-size="11" font-weight="bold" text-anchor="end" fill="#111" stroke="#111" stroke-width="0.2">60</text>
<text x="531.6" y="83.5" font-size="11" font-weight="bold" text-anchor="end" fill="#111" stroke="#111" stroke-width="0.2">80</text>
<text x="531.6" y="56.9" font-size="11" font-weight="bold" text-anchor="end" fill="#111" stroke="#111" stroke-width="0.2">100</text>
<text x="537.9" y="202.8" font-size="10.9" font-weight="bold" text-anchor="middle" fill="#111" stroke="#111" stroke-width="0.2">0.0</text>
<text x="583.96" y="202.8" font-size="10.9" font-weight="bold" text-anchor="middle" fill="#111" stroke="#111" stroke-width="0.2">0.2</text>
<text x="630.02" y="202.8" font-size="10.9" font-weight="bold" text-anchor="middle" fill="#111" stroke="#111" stroke-width="0.2">0.4</text>
<text x="676.0799999999999" y="202.8" font-size="10.9" font-weight="bold" text-anchor="middle" fill="#111" stroke="#111" stroke-width="0.2">0.6</text>
<text x="722.14" y="202.8" font-size="10.9" font-weight="bold" text-anchor="middle" fill="#111" stroke="#111" stroke-width="0.2">0.8</text>
<text x="768.2" y="202.8" font-size="10.9" font-weight="bold" text-anchor="middle" fill="#111" stroke="#111" stroke-width="0.2">1.0</text>
<text x="597.6" y="219.5" font-size="12" font-weight="bold" textLength="111" lengthAdjust="spacingAndGlyphs" fill="#111" stroke="#111" stroke-width="0.15">Carboplatin (<tspan font-weight="normal">μ</tspan>g/ml)</text>
<text x="508.2" y="177.1" font-size="12.8" font-weight="bold" textLength="137" lengthAdjust="spacingAndGlyphs" transform="rotate(-90 508.2 177.1)" fill="#111" stroke="#111" stroke-width="0.3">clonogenic survival (%)</text>
<polyline points="538.3,52.5 584.2,94.8 630.2,142.1 676.3,170.2 722.2,176.6 768.2,184.3" fill="none" stroke="#d3343a" stroke-width="1.5" stroke-linejoin="round"/>
<line x1="538.3" y1="33.1" x2="538.3" y2="71.7" stroke="#d3343a" stroke-width="1.6" stroke-linecap="butt"/>
<line x1="534.5999999999999" y1="33.1" x2="542.0" y2="33.1" stroke="#d3343a" stroke-width="1.6" stroke-linecap="butt"/>
<line x1="534.5999999999999" y1="71.7" x2="542.0" y2="71.7" stroke="#d3343a" stroke-width="1.6" stroke-linecap="butt"/>
<line x1="584.2" y1="92" x2="584.2" y2="106.7" stroke="#d3343a" stroke-width="1.6" stroke-linecap="butt"/>
<line x1="580.5" y1="92" x2="587.9000000000001" y2="92" stroke="#d3343a" stroke-width="1.6" stroke-linecap="butt"/>
<line x1="580.5" y1="106.7" x2="587.9000000000001" y2="106.7" stroke="#d3343a" stroke-width="1.6" stroke-linecap="butt"/>
<line x1="630.2" y1="135.4" x2="630.2" y2="148.1" stroke="#d3343a" stroke-width="1.6" stroke-linecap="butt"/>
<line x1="626.5" y1="135.4" x2="633.9000000000001" y2="135.4" stroke="#d3343a" stroke-width="1.6" stroke-linecap="butt"/>
<line x1="626.5" y1="148.1" x2="633.9000000000001" y2="148.1" stroke="#d3343a" stroke-width="1.6" stroke-linecap="butt"/>
<line x1="676.3" y1="164" x2="676.3" y2="176.4" stroke="#d3343a" stroke-width="1.6" stroke-linecap="butt"/>
<line x1="672.5999999999999" y1="164" x2="680.0" y2="164" stroke="#d3343a" stroke-width="1.6" stroke-linecap="butt"/>
<line x1="672.5999999999999" y1="176.4" x2="680.0" y2="176.4" stroke="#d3343a" stroke-width="1.6" stroke-linecap="butt"/>
<line x1="722.2" y1="169.8" x2="722.2" y2="182.2" stroke="#d3343a" stroke-width="1.6" stroke-linecap="butt"/>
<line x1="718.5" y1="169.8" x2="725.9000000000001" y2="169.8" stroke="#d3343a" stroke-width="1.6" stroke-linecap="butt"/>
<line x1="718.5" y1="182.2" x2="725.9000000000001" y2="182.2" stroke="#d3343a" stroke-width="1.6" stroke-linecap="butt"/>
<polyline points="538.3,52.5 584.2,83.2 630.2,115.4 676.3,151.6 722.2,175.6 768.2,182.6" fill="none" stroke="#111" stroke-width="1.6" stroke-linejoin="round"/>
<line x1="538.3" y1="41" x2="538.3" y2="63.7" stroke="#111" stroke-width="1.7" stroke-linecap="butt"/>
<line x1="534.5999999999999" y1="41" x2="542.0" y2="41" stroke="#111" stroke-width="1.7" stroke-linecap="butt"/>
<line x1="534.5999999999999" y1="63.7" x2="542.0" y2="63.7" stroke="#111" stroke-width="1.7" stroke-linecap="butt"/>
<line x1="584.2" y1="60.5" x2="584.2" y2="106.7" stroke="#111" stroke-width="1.7" stroke-linecap="butt"/>
<line x1="580.5" y1="60.5" x2="587.9000000000001" y2="60.5" stroke="#111" stroke-width="1.7" stroke-linecap="butt"/>
<line x1="580.5" y1="106.7" x2="587.9000000000001" y2="106.7" stroke="#111" stroke-width="1.7" stroke-linecap="butt"/>
<line x1="630.2" y1="104.1" x2="630.2" y2="127" stroke="#111" stroke-width="1.7" stroke-linecap="butt"/>
<line x1="626.5" y1="104.1" x2="633.9000000000001" y2="104.1" stroke="#111" stroke-width="1.7" stroke-linecap="butt"/>
<line x1="626.5" y1="127" x2="633.9000000000001" y2="127" stroke="#111" stroke-width="1.7" stroke-linecap="butt"/>
<rect x="535.4" y="49.6" width="5.8" height="5.8" fill="#e0262e"/>
<rect x="581.3000000000001" y="91.89999999999999" width="5.8" height="5.8" fill="#e0262e"/>
<rect x="627.3000000000001" y="139.2" width="5.8" height="5.8" fill="#e0262e"/>
<rect x="673.4" y="167.29999999999998" width="5.8" height="5.8" fill="#e0262e"/>
<rect x="719.3000000000001" y="173.7" width="5.8" height="5.8" fill="#e0262e"/>
<rect x="765.3000000000001" y="181.4" width="5.8" height="5.8" fill="#e0262e"/>
<circle cx="538.3" cy="52.5" r="3.1" fill="#111"/>
<circle cx="584.2" cy="83.2" r="3.1" fill="#111"/>
<circle cx="630.2" cy="115.4" r="3.1" fill="#111"/>
<circle cx="676.3" cy="151.6" r="3.1" fill="#111"/>
<circle cx="722.2" cy="175.6" r="3.1" fill="#111"/>
<circle cx="768.2" cy="182.6" r="3.1" fill="#111"/>
<path d="M630.5 86.75V93.05000000000001M627.77 88.33L633.23 91.48M627.77 91.48L633.23 88.33" stroke="#111" stroke-width="1.53" fill="none"/>
<circle cx="630.5" cy="89.9" r="1.20" fill="#111"/>
<line x1="667.8" y1="45.6" x2="682.6" y2="45.6" stroke="#111" stroke-width="1.5" stroke-linecap="butt"/>
<circle cx="675.3" cy="45.6" r="2.3" fill="#111"/>
<text x="690" y="49.2" font-size="9.8" textLength="58.4" lengthAdjust="spacingAndGlyphs" fill="#111" stroke="#111" stroke-width="0.4">FaDu control</text>
<line x1="667.8" y1="64" x2="682.6" y2="64" stroke="#d3343a" stroke-width="1.5" stroke-linecap="butt"/>
<rect x="673.4" y="61.5" width="5.0" height="5.0" fill="#e0262e"/>
<text x="690" y="66.8" font-size="9.8" textLength="24.5" lengthAdjust="spacingAndGlyphs" fill="#111" stroke="#111" stroke-width="0.4">FaDu</text>
<text x="721.8" y="67.2" font-size="8.6" textLength="36.9" lengthAdjust="spacingAndGlyphs" fill="#111" stroke="#111" stroke-width="0.4">NSD1sh</text>
<line x1="534.7" y1="236.5" x2="534.7" y2="393.0" stroke="#111" stroke-width="2.4" stroke-linecap="butt"/>
<line x1="534.7" y1="393.0" x2="770" y2="393.0" stroke="#111" stroke-width="2.4" stroke-linecap="butt"/>
<line x1="529.2" y1="392.8" x2="534.7" y2="392.8" stroke="#111" stroke-width="2.4" stroke-linecap="butt"/>
<line x1="529.2" y1="364.3" x2="534.7" y2="364.3" stroke="#111" stroke-width="2.4" stroke-linecap="butt"/>
<line x1="529.2" y1="335.8" x2="534.7" y2="335.8" stroke="#111" stroke-width="2.4" stroke-linecap="butt"/>
<line x1="529.2" y1="307.3" x2="534.7" y2="307.3" stroke="#111" stroke-width="2.4" stroke-linecap="butt"/>
<line x1="529.2" y1="278.8" x2="534.7" y2="278.8" stroke="#111" stroke-width="2.4" stroke-linecap="butt"/>
<line x1="529.2" y1="250.3" x2="534.7" y2="250.3" stroke="#111" stroke-width="2.4" stroke-linecap="butt"/>
<line x1="534.3" y1="393.0" x2="534.3" y2="398.5" stroke="#111" stroke-width="2.4" stroke-linecap="butt"/>
<line x1="581.24" y1="393.0" x2="581.24" y2="398.5" stroke="#111" stroke-width="2.4" stroke-linecap="butt"/>
<line x1="628.18" y1="393.0" x2="628.18" y2="398.5" stroke="#111" stroke-width="2.4" stroke-linecap="butt"/>
<line x1="675.1199999999999" y1="393.0" x2="675.1199999999999" y2="398.5" stroke="#111" stroke-width="2.4" stroke-linecap="butt"/>
<line x1="722.06" y1="393.0" x2="722.06" y2="398.5" stroke="#111" stroke-width="2.4" stroke-linecap="butt"/>
<line x1="769.0" y1="393.0" x2="769.0" y2="398.5" stroke="#111" stroke-width="2.4" stroke-linecap="butt"/>
<text x="528.2" y="397.1" font-size="11" font-weight="bold" text-anchor="end" fill="#111" stroke="#111" stroke-width="0.2">0</text>
<text x="528.2" y="368.6" font-size="11" font-weight="bold" text-anchor="end" fill="#111" stroke="#111" stroke-width="0.2">20</text>
<text x="528.2" y="340.1" font-size="11" font-weight="bold" text-anchor="end" fill="#111" stroke="#111" stroke-width="0.2">40</text>
<text x="528.2" y="311.6" font-size="11" font-weight="bold" text-anchor="end" fill="#111" stroke="#111" stroke-width="0.2">60</text>
<text x="528.2" y="283.1" font-size="11" font-weight="bold" text-anchor="end" fill="#111" stroke="#111" stroke-width="0.2">80</text>
<text x="528.2" y="254.60000000000002" font-size="11" font-weight="bold" text-anchor="end" fill="#111" stroke="#111" stroke-width="0.2">100</text>
<text x="534.3" y="409.7" font-size="11.3" font-weight="bold" text-anchor="middle" fill="#111" stroke="#111" stroke-width="0.2">0.0</text>
<text x="581.24" y="409.7" font-size="11.3" font-weight="bold" text-anchor="middle" fill="#111" stroke="#111" stroke-width="0.2">0.4</text>
<text x="628.18" y="409.7" font-size="11.3" font-weight="bold" text-anchor="middle" fill="#111" stroke="#111" stroke-width="0.2">0.8</text>
<text x="675.1199999999999" y="409.7" font-size="11.3" font-weight="bold" text-anchor="middle" fill="#111" stroke="#111" stroke-width="0.2">1.2</text>
<text x="722.06" y="409.7" font-size="11.3" font-weight="bold" text-anchor="middle" fill="#111" stroke="#111" stroke-width="0.2">1.6</text>
<text x="769.0" y="409.7" font-size="11.3" font-weight="bold" text-anchor="middle" fill="#111" stroke="#111" stroke-width="0.2">2.0</text>
<text x="595.4" y="427.6" font-size="12" font-weight="bold" textLength="114" lengthAdjust="spacingAndGlyphs" fill="#111" stroke="#111" stroke-width="0.2">Carboplatin (<tspan font-weight="normal">μ</tspan>g/ml)</text>
<text x="503.8" y="384.3" font-size="13.0" font-weight="bold" textLength="139.2" lengthAdjust="spacingAndGlyphs" transform="rotate(-90 503.8 384.3)" fill="#111" stroke="#111" stroke-width="0.3">clonogenic survival (%)</text>
<polyline points="534.3,250.3 563.8,285.6 593.6,303.2 652.2,343.5 769.0,389.9" fill="none" stroke="#d3343a" stroke-width="1.5" stroke-linejoin="round"/>
<line x1="563.8" y1="272.3" x2="563.8" y2="298.5" stroke="#d3343a" stroke-width="1.6" stroke-linecap="butt"/>
<line x1="560.0999999999999" y1="272.3" x2="567.5" y2="272.3" stroke="#d3343a" stroke-width="1.6" stroke-linecap="butt"/>
<line x1="560.0999999999999" y1="298.5" x2="567.5" y2="298.5" stroke="#d3343a" stroke-width="1.6" stroke-linecap="butt"/>
<line x1="593.6" y1="298.5" x2="593.6" y2="315.3" stroke="#d3343a" stroke-width="1.6" stroke-linecap="butt"/>
<line x1="589.9" y1="298.5" x2="597.3000000000001" y2="298.5" stroke="#d3343a" stroke-width="1.6" stroke-linecap="butt"/>
<line x1="589.9" y1="315.3" x2="597.3000000000001" y2="315.3" stroke="#d3343a" stroke-width="1.6" stroke-linecap="butt"/>
<rect x="531.4" y="247.4" width="5.8" height="5.8" fill="#e0262e"/>
<rect x="560.9" y="282.70000000000005" width="5.8" height="5.8" fill="#e0262e"/>
<rect x="590.7" y="300.3" width="5.8" height="5.8" fill="#e0262e"/>
<rect x="649.3000000000001" y="340.6" width="5.8" height="5.8" fill="#e0262e"/>
<rect x="766.1" y="387.0" width="5.8" height="5.8" fill="#e0262e"/>
<polyline points="534.3,250.3 563.8,278.1 593.6,294.6 652.2,310.2 769.0,368.3" fill="none" stroke="#111" stroke-width="1.6" stroke-linejoin="round"/>
<line x1="534.3" y1="236.7" x2="534.3" y2="264.4" stroke="#111" stroke-width="1.7" stroke-linecap="butt"/>
<line x1="530.5999999999999" y1="236.7" x2="538.0" y2="236.7" stroke="#111" stroke-width="1.7" stroke-linecap="butt"/>
<line x1="530.5999999999999" y1="264.4" x2="538.0" y2="264.4" stroke="#111" stroke-width="1.7" stroke-linecap="butt"/>
<line x1="563.8" y1="274" x2="563.8" y2="282.5" stroke="#111" stroke-width="1.7" stroke-linecap="butt"/>
<line x1="560.0999999999999" y1="274" x2="567.5" y2="274" stroke="#111" stroke-width="1.7" stroke-linecap="butt"/>
<line x1="560.0999999999999" y1="282.5" x2="567.5" y2="282.5" stroke="#111" stroke-width="1.7" stroke-linecap="butt"/>
<line x1="593.6" y1="291.4" x2="593.6" y2="297.3" stroke="#111" stroke-width="1.7" stroke-linecap="butt"/>
<line x1="589.9" y1="291.4" x2="597.3000000000001" y2="291.4" stroke="#111" stroke-width="1.7" stroke-linecap="butt"/>
<line x1="589.9" y1="297.3" x2="597.3000000000001" y2="297.3" stroke="#111" stroke-width="1.7" stroke-linecap="butt"/>
<line x1="652.2" y1="297.7" x2="652.2" y2="322.7" stroke="#111" stroke-width="1.7" stroke-linecap="butt"/>
<line x1="648.5" y1="297.7" x2="655.9000000000001" y2="297.7" stroke="#111" stroke-width="1.7" stroke-linecap="butt"/>
<line x1="648.5" y1="322.7" x2="655.9000000000001" y2="322.7" stroke="#111" stroke-width="1.7" stroke-linecap="butt"/>
<line x1="769" y1="365.6" x2="769" y2="371.2" stroke="#111" stroke-width="1.7" stroke-linecap="butt"/>
<line x1="765.3" y1="365.6" x2="772.7" y2="365.6" stroke="#111" stroke-width="1.7" stroke-linecap="butt"/>
<line x1="765.3" y1="371.2" x2="772.7" y2="371.2" stroke="#111" stroke-width="1.7" stroke-linecap="butt"/>
<circle cx="534.3" cy="250.3" r="3.1" fill="#111"/>
<circle cx="563.8" cy="278.1" r="3.1" fill="#111"/>
<circle cx="593.6" cy="294.6" r="3.1" fill="#111"/>
<circle cx="652.2" cy="310.2" r="3.1" fill="#111"/>
<circle cx="769.0" cy="368.3" r="3.1" fill="#111"/>
<path d="M651.7 280.25V286.54999999999995M648.97 281.82L654.43 284.97M648.97 284.97L654.43 281.82" stroke="#111" stroke-width="1.53" fill="none"/>
<circle cx="651.7" cy="283.4" r="1.20" fill="#111"/>
<path d="M768.9 345.85V352.15M766.17 347.43L771.63 350.57M766.17 350.57L771.63 347.43" stroke="#111" stroke-width="1.53" fill="none"/>
<circle cx="768.9" cy="349.0" r="1.20" fill="#111"/>
<line x1="677.4" y1="259.7" x2="691.4" y2="259.7" stroke="#111" stroke-width="1.5" stroke-linecap="butt"/>
<circle cx="684.3" cy="259.7" r="2.3" fill="#111"/>
<text x="698.1" y="263.5" font-size="9.7" textLength="58.3" lengthAdjust="spacingAndGlyphs" fill="#111" stroke="#111" stroke-width="0.4">HaCat control</text>
<line x1="677.4" y1="276.5" x2="691.4" y2="276.5" stroke="#d3343a" stroke-width="1.5" stroke-linecap="butt"/>
<rect x="682.7" y="274.20000000000005" width="4.8" height="4.8" fill="#e0262e"/>
<text x="698.1" y="279.4" font-size="9.7" textLength="27" lengthAdjust="spacingAndGlyphs" fill="#111" stroke="#111" stroke-width="0.4">HaCat</text>
<text x="732.3" y="280.8" font-size="8.8" textLength="36.9" lengthAdjust="spacingAndGlyphs" fill="#111" stroke="#111" stroke-width="0.4">NSD1sh</text>
</svg>
</body></html>
